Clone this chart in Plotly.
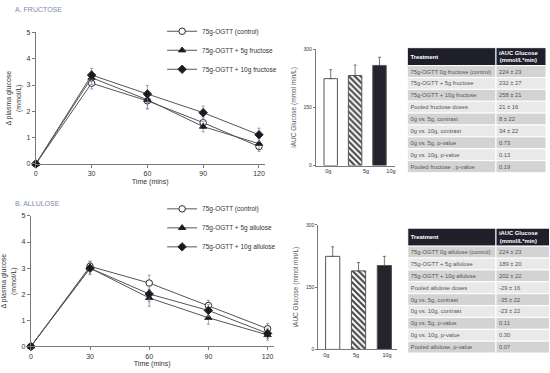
import plotly.graph_objects as go

W, H = 550, 373


def dx(a, b):
    return [a / W, b / W]


def dy(top, bottom):
    return [1 - bottom / H, 1 - top / H]


# ---------------- data ----------------
time_min = [0, 30, 60, 90, 120]

fru_control = [0, 3.07, 2.40, 1.57, 0.66]
fru_5g = [0, 3.28, 2.44, 1.42, 0.77]
fru_10g = [0, 3.38, 2.66, 1.95, 1.11]
fru_control_err = [0, 0.22, 0.30, 0.22, 0.18]
fru_5g_err = [0, 0.25, 0.35, 0.20, 0.20]
fru_10g_err = [0, 0.25, 0.32, 0.25, 0.25]

all_control = [0, 3.07, 2.43, 1.57, 0.68]
all_5g = [0, 3.00, 1.86, 1.10, 0.44]
all_10g = [0, 3.00, 2.01, 1.38, 0.50]
all_control_err = [0, 0.20, 0.30, 0.20, 0.20]
all_5g_err = [0, 0.25, 0.32, 0.25, 0.20]
all_10g_err = [0, 0.22, 0.30, 0.22, 0.20]

doses = ["0g", "5g", "10g"]
fru_iauc = [224, 232, 258]
fru_iauc_se = [23, 27, 21]
all_iauc = [224, 189, 202]
all_iauc_se = [23, 20, 22]

table_header = ["Treatment", "iAUC Glucose<br>(mmol/L*min)"]
fru_table_rows = [
    "75g-OGTT 0g fructose (control)",
    "75g-OGTT + 5g fructose",
    "75g-OGTT + 10g fructose",
    "Pooled fructose doses",
    "0g vs. 5g, contrast",
    "0g vs. 10g, contrast",
    "0g vs. 5g, p-value",
    "0g vs. 10g, p-value",
    "Pooled fructose , p-value",
]
fru_table_vals = ["224 ± 23", "232 ± 27", "258 ± 21", "21 ± 16", "8 ± 22",
                  "34 ± 22", "0.73", "0.13", "0.19"]
all_table_rows = [
    "75g-OGTT 0g allulose (control)",
    "75g-OGTT + 5g allulose",
    "75g-OGTT + 10g allulose",
    "Pooled allulose doses",
    "0g vs. 5g, contrast",
    "0g vs. 10g, contrast",
    "0g vs. 5g, p-value",
    "0g vs. 10g, p-value",
    "Pooled allulose, p-value",
]
all_table_vals = ["224 ± 23", "189 ± 20", "202 ± 22", "-29 ± 16", "-35 ± 22",
                  "-23 ± 22", "0.11", "0.30", "0.07"]

# ---------------- style ----------------
FONT = "Liberation Sans, Arial, sans-serif"
LINE = "#555555"
ERR = "#7d89b5"
AX = "#7a7a7a"
TXT = "#333333"
HEAD = "#1f1f2b"
ROW_DARK = "#d3d3d3"
ROW_LIGHT = "#e9e9e9"

fig = go.Figure()


def add_lines(xa, ya, legend, names, series, errs):
    symbols = ["circle", "triangle-up", "diamond"]
    for name, ys, er, sym in zip(names, series, errs, symbols):
        fill = "white" if sym == "circle" else "#1a1a1a"
        marker = dict(symbol=sym, size=6.5, color=fill,
                      line=dict(color="#2a2a2a", width=1))
        fig.add_trace(go.Scatter(
            x=time_min, y=ys, name=name, mode="lines+markers",
            xaxis=xa, yaxis=ya, legend=legend, cliponaxis=False,
            line=dict(color=LINE, width=1), marker=marker,
            error_y=dict(type="data", array=er, color=ERR, thickness=0.8, width=1.5),
        ))


add_lines("x", "y", "legend",
          ["75g-OGTT (control)", "75g-OGTT + 5g fructose", "75g-OGTT + 10g fructose"],
          [fru_control, fru_5g, fru_10g], [fru_control_err, fru_5g_err, fru_10g_err])
add_lines("x3", "y3", "legend2",
          ["75g-OGTT (control)", "75g-OGTT + 5g allulose", "75g-OGTT + 10g allulose"],
          [all_control, all_5g, all_10g], [all_control_err, all_5g_err, all_10g_err])


def add_bars(xa, ya, vals, se):
    fig.add_trace(go.Bar(
        x=list(range(len(doses))), y=vals, xaxis=xa, yaxis=ya, showlegend=False,
        width=0.55,
        marker=dict(color=["white", "white", "#24242f"],
                    line=dict(color="#555555", width=1),
                    pattern=dict(shape=["", "\\", ""], fgcolor="#000000", fgopacity=1,
                                 bgcolor="white", size=4.2, solidity=0.5)),
        error_y=dict(type="data", array=se, arrayminus=[0] * len(se), symmetric=False,
                     color="#555555", thickness=0.8, width=1.5),
    ))


add_bars("x2", "y2", fru_iauc, fru_iauc_se)
add_bars("x4", "y4", all_iauc, all_iauc_se)


def add_table(xa, ya, rows, vals, col_w, header_h, row_h):
    """Table drawn as horizontal cells: one bar per cell, text left-aligned inside."""
    n = len(rows)
    centers = [header_h / 2] + [header_h + (i + 0.5) * row_h for i in range(n)]
    thick = [header_h] + [row_h] * n
    fills = [HEAD] + [ROW_DARK if i % 2 == 0 else ROW_LIGHT for i in range(n)]
    colors = ["white"] + ["#555555"] * n
    start = 0
    for j, col in enumerate([rows, vals]):
        texts = ["<b>" + table_header[j].replace("<br>", "</b><br><b>") + "</b>"] + col
        fig.add_trace(go.Bar(
            orientation="h", y=centers, x=[col_w[j]] * (n + 1), base=[start] * (n + 1),
            width=thick, xaxis=xa, yaxis=ya, showlegend=False, hoverinfo="skip",
            marker=dict(color=fills, line=dict(color="white", width=1)),
            text=texts, textposition="inside", insidetextanchor="start",
            textangle=0, constraintext="none", cliponaxis=True,
            textfont=dict(family=FONT, size=5.8, color=colors),
        ))
        start += col_w[j]
    return header_h + n * row_h


TOP_TAB_Y = 44.5
BOT_TAB_Y = 228.5
top_tab_h = add_table("x5", "y5", fru_table_rows, fru_table_vals, [89, 50.3], 18.3, 12.1)
bot_tab_h = add_table("x6", "y6", all_table_rows, all_table_vals, [88.7, 60], 18.3, 12.1)

axis_common = dict(showline=True, linecolor=AX, linewidth=1, showgrid=False,
                   zeroline=False, ticks="outside", ticklen=3, tickcolor=AX,
                   tickfont=dict(family=FONT, size=7, color=TXT))
hidden = dict(visible=False, showgrid=False, zeroline=False, fixedrange=True)

lab_font = dict(family=FONT, size=7, color=TXT)
bar_title_font = dict(family=FONT, size=6.5, color="#555555")

fig.update_layout(
    width=W, height=H, margin=dict(l=0, r=0, t=0, b=0),
    paper_bgcolor="white", plot_bgcolor="rgba(0,0,0,0)",
    font=dict(family=FONT, size=7, color=TXT),
    barmode="overlay",
    xaxis=dict(axis_common, domain=dx(34, 264), range=[0, 123], anchor="y",
               tickvals=time_min, title=dict(text="Time (mins)", font=lab_font, standoff=2)),
    yaxis=dict(axis_common, domain=dy(29, 163), range=[0, 5], dtick=1, anchor="x",
               title=dict(text="Δ plasma glucose<br>(mmol/L)", font=lab_font, standoff=4)),
    xaxis3=dict(axis_common, domain=dx(29, 273), range=[0, 123], anchor="y3",
                tickvals=time_min, title=dict(text="Time (mins)", font=lab_font, standoff=2)),
    yaxis3=dict(axis_common, domain=dy(216, 349), range=[0, 5], dtick=1, anchor="x3",
                title=dict(text="Δ plasma glucose<br>(mmol/L)", font=lab_font, standoff=4)),
    xaxis2=dict(axis_common, domain=dx(315.5, 395), range=[-0.612, 2.63], anchor="y2",
                ticks="", tickvals=[-0.1, 1.45, 2.47], ticktext=doses,
                tickfont=dict(family=FONT, size=5.5, color=TXT)),
    yaxis2=dict(axis_common, domain=dy(46, 164.7), range=[0, 300], tickvals=[0, 150, 300],
                anchor="x2", ticklen=2, tickfont=dict(family=FONT, size=5, color=TXT),
                title=dict(text="iAUC Glucose (mmol min/L)", font=bar_title_font, standoff=6)),
    xaxis4=dict(axis_common, domain=dx(318, 396.7), range=[-0.558, 2.47], anchor="y4",
                ticks="", tickvals=[-0.25, 0.9, 2.1], ticktext=doses,
                tickfont=dict(family=FONT, size=5.5, color=TXT)),
    yaxis4=dict(axis_common, domain=dy(225, 352), range=[0, 300], tickvals=[0, 150, 300],
                anchor="x4", ticklen=2, tickfont=dict(family=FONT, size=5, color=TXT),
                title=dict(text="iAUC Glucose (mmol min/L)", font=bar_title_font, standoff=6)),
    xaxis5=dict(hidden, domain=dx(407.7, 547), range=[0, 139.3], anchor="y5"),
    yaxis5=dict(hidden, domain=dy(TOP_TAB_Y, TOP_TAB_Y + top_tab_h), range=[top_tab_h, 0], anchor="x5"),
    xaxis6=dict(hidden, domain=dx(408, 550), range=[0, 142], anchor="y6"),
    yaxis6=dict(hidden, domain=dy(BOT_TAB_Y, BOT_TAB_Y + bot_tab_h), range=[bot_tab_h, 0], anchor="x6"),
    legend=dict(x=161 / W, y=1 - 13 / H, xanchor="left", yanchor="top",
                bgcolor="rgba(0,0,0,0)", font=dict(family=FONT, size=6.5, color=TXT)),
    legend2=dict(x=161 / W, y=1 - 194 / H, xanchor="left", yanchor="top",
                 bgcolor="rgba(0,0,0,0)", font=dict(family=FONT, size=6.5, color=TXT)),
    annotations=[
        dict(text="A. FRUCTOSE", x=11 / W, y=1 - 6 / H, xref="paper", yref="paper",
             xanchor="left", yanchor="middle", showarrow=False,
             font=dict(family=FONT, size=7, color="#8088b0")),
        dict(text="B. ALLULOSE", x=11 / W, y=1 - 203 / H, xref="paper", yref="paper",
             xanchor="left", yanchor="middle", showarrow=False,
             font=dict(family=FONT, size=7, color="#8088b0")),
    ],
)

fig.write_html("out.html", config={"displayModeBar": False},
               post_script="document.body.style.margin='0';")
